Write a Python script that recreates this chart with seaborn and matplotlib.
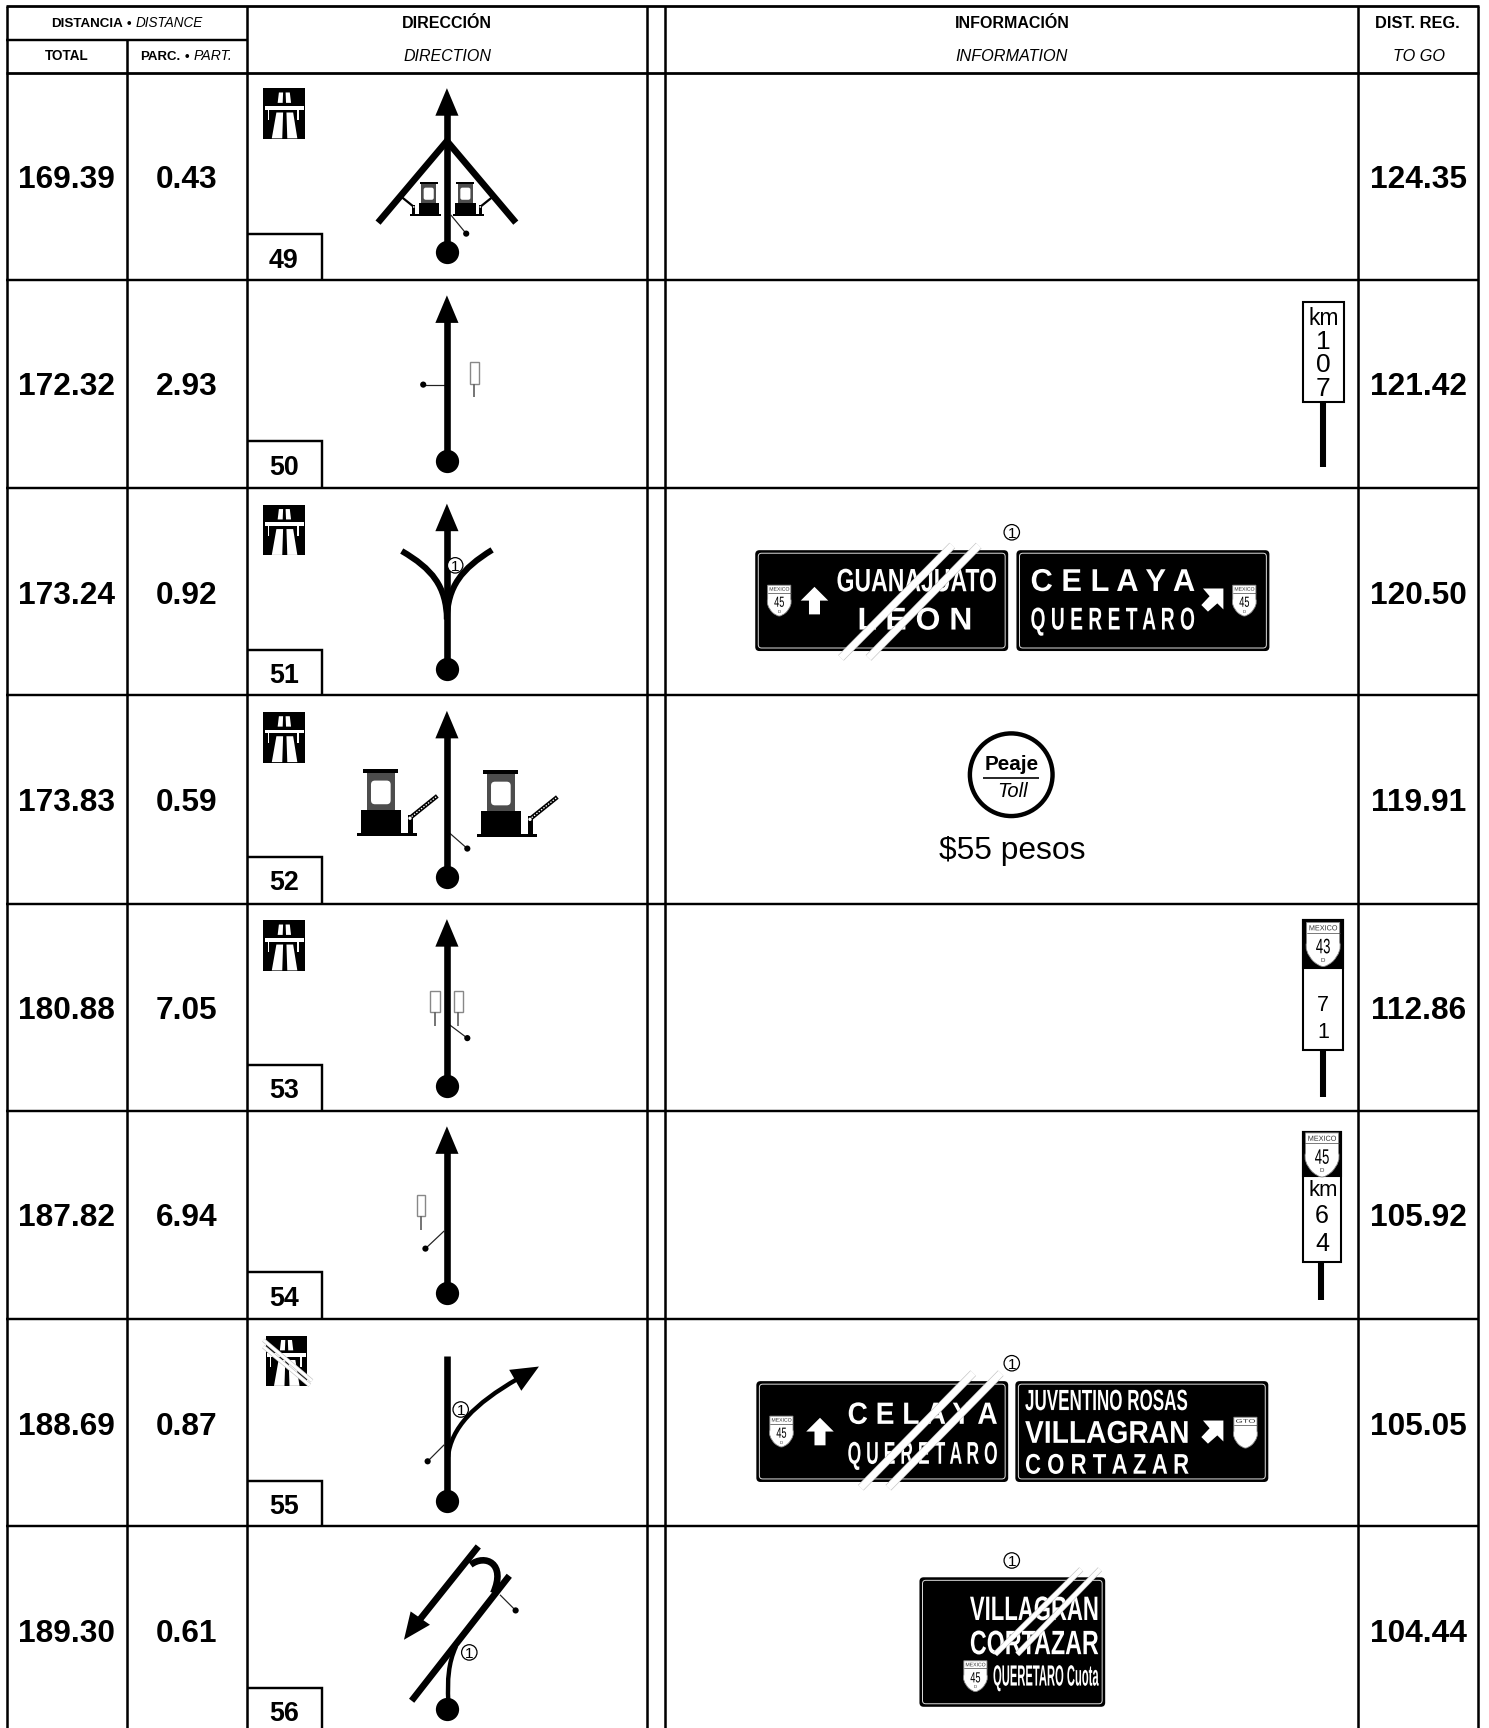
import matplotlib
matplotlib.use('Agg')
import matplotlib.pyplot as plt
import seaborn as sns
from matplotlib.patches import Circle, FancyBboxPatch, PathPatch, Polygon, Rectangle
from matplotlib.patheffects import AbstractPathEffect
from matplotlib.path import Path
from matplotlib.text import Text
from matplotlib.transforms import Affine2D, Bbox

# values read from the road book page
totals = ['169.39', '172.32', '173.24', '173.83', '180.88', '187.82', '188.69', '189.30']
partials = ['0.43', '2.93', '0.92', '0.59', '7.05', '6.94', '0.87', '0.61']
to_go = ['124.35', '121.42', '120.50', '119.91', '112.86', '105.92', '105.05', '104.44']
box_numbers = ['49', '50', '51', '52', '53', '54', '55', '56']
start_y = [229, 418, 607, 796, 985, 1173, 1362, 1551]

row_tops = [66, 254, 443, 631, 820, 1008, 1197, 1385]
col_lines = [6, 115, 224, 587, 603, 1232, 1341]

sns.set_theme(style='white')
plt.rcParams['font.family'] = ['Liberation Sans', 'DejaVu Sans']

BLACK = '#000000'
WHITE = '#ffffff'
W, H = 1351, 1568
K = 1489 / W

fig = plt.figure(figsize=(14.89, 17.28), dpi=100)
ax = fig.add_axes([0, 0, 1, 1])
ax.set_xlim(0, W)
ax.set_ylim(H, 0)
ax.set_axis_off()
rend = fig.canvas.get_renderer()


class Squeeze(AbstractPathEffect):
    # sign lettering is condensed or stretched, this scales the glyphs along x only
    def __init__(self, sx):
        super().__init__()
        self.sx = sx

    def draw_path(self, renderer, gc, tpath, affine, rgbFace=None):
        m = affine.get_matrix().copy()
        m[0, 0] *= self.sx
        renderer.draw_path(gc, tpath, Affine2D(m), rgbFace)


class SqueezedText(Text):
    # reports the box of the squeezed glyphs
    sx = 1

    def get_window_extent(self, renderer=None, dpi=None):
        b = super().get_window_extent(renderer, dpi)
        return Bbox.from_extents(b.x0, b.y0, b.x0 + b.width * self.sx, b.y1)


def lw(px):
    return px * K * 0.72


def fit(x0, x1, y, s, color=BLACK, z=8, **kw):
    # text sized to sit between x0 and x1, y is the cap middle
    t = ax.text(x0, y, s, ha='left', va='baseline', fontsize=10, color=color, zorder=z, **kw)
    w = t.get_window_extent(rend).width
    size = 10 * (x1 - x0) * K / w
    t.set_fontsize(size)
    t.set_y(y + 0.358 * size / 0.72 / K)
    return t


def sign_text(x0, x1, y, s, cap, color=WHITE, z=7, **kw):
    # cap height and width set on their own
    size = cap * K / 0.716 * 0.72
    t = SqueezedText(x0, y + cap / 2, s, ha='left', va='baseline', fontsize=size, color=color, zorder=z, **kw)
    ax.add_artist(t)
    w = t.get_window_extent(rend).width
    t.sx = (x1 - x0) * K / w
    t.set_path_effects([Squeeze(t.sx)])
    return t


def label(cx, y, s, size, color=BLACK, z=8, **kw):
    return ax.text(cx, y + 0.358 * size / 0.72 / K, s, ha='center', va='baseline', fontsize=size,
                   color=color, zorder=z, **kw)


def line(xs, ys, width, color=BLACK, z=3, cap='butt'):
    ax.plot(xs, ys, color=color, lw=lw(width), solid_capstyle=cap, solid_joinstyle='miter', zorder=z)


def curve(p0, c1, c2, p1, width, z=3):
    path = Path([p0, c1, c2, p1], [Path.MOVETO, Path.CURVE4, Path.CURVE4, Path.CURVE4])
    ax.add_patch(PathPatch(path, fc='none', ec=BLACK, lw=lw(width), capstyle='butt', zorder=z))


def poly(pts, fc=BLACK, z=3, **kw):
    ax.add_patch(Polygon(pts, closed=True, fc=fc, ec='none', zorder=z, **kw))


def road_arrow(top, bottom, cx=405.5):
    line([cx, cx], [top + 22, bottom], 6)
    poly([(cx, top), (cx - 10.5, top + 25), (cx + 10.5, top + 25)])


def pointer(x0, y0, x1, y1):
    line([x0, x1], [y0, y1], 1.1, color='#222222', z=2)
    ax.add_patch(Circle((x1, y1), 2.8, fc=BLACK, ec='none', zorder=3))


def circled(cx, cy):
    ax.add_patch(Circle((cx, cy), 7, fc=WHITE, ec=BLACK, lw=0.9, zorder=7))
    label(cx, cy, '1', 11, z=8)


def slash(x0, y0, x1, y1, width=6, z=10):
    line([x0, x1], [y0, y1], width + 1.2, color='#c4c4c4', z=z)
    line([x0, x1], [y0, y1], width, color=WHITE, z=z + 1)


def motorway(x, y, crossed=False):
    w, h = 38, 46
    ax.add_patch(Rectangle((x, y), w, h, fc=BLACK, ec='none', zorder=3))
    fr = lambda a, b: (x + a * w, y + b * h)
    poly([fr(.37, .085), fr(.47, .085), fr(.46, .29), fr(.34, .29)], fc=WHITE, z=4)
    poly([fr(.53, .085), fr(.63, .085), fr(.66, .29), fr(.54, .29)], fc=WHITE, z=4)
    poly([fr(.04, .35), fr(.97, .35), fr(.97, .425), fr(.04, .425)], fc=WHITE, z=4)
    poly([fr(.1, .42), fr(.14, .42), fr(.14, .62), fr(.1, .62)], fc=WHITE, z=4)
    poly([fr(.81, .42), fr(.86, .42), fr(.86, .62), fr(.81, .62)], fc=WHITE, z=4)
    poly([fr(.31, .48), fr(.47, .48), fr(.45, .99), fr(.2, .99)], fc=WHITE, z=4)
    poly([fr(.55, .48), fr(.71, .48), fr(.81, .99), fr(.57, .99)], fc=WHITE, z=4)
    if crossed:
        slash(x - 2, y + 4, x + 42, y + 41, width=2.5, z=5)
        slash(x - 2, y + 10, x + 40, y + 45, width=2.5, z=5)


def booth(x, y, s, mirror=False):
    # x, y = left end and bottom of the foot, drawn in units of a 182 wide booth
    def p(u, v):
        uu = 182 - u if mirror else u
        return x + uu * s, y - v * s
    poly([p(20, 200), p(125, 200), p(125, 188), p(20, 188)], z=2)
    poly([p(30, 188), p(115, 188), p(115, 78), p(30, 78)], fc='#4d4d4d', z=2)
    a, b = p(43, 166), p(102, 95)
    x0, x1 = min(a[0], b[0]), max(a[0], b[0])
    ax.add_patch(FancyBboxPatch((x0, a[1]), x1 - x0, b[1] - a[1], boxstyle=f'round,pad=0,rounding_size={12 * s}',
                                fc=WHITE, ec='none', zorder=2))
    poly([p(13, 78), p(132, 78), p(132, 10), p(13, 10)], z=2)
    poly([p(0, 10), p(182, 10), p(182, 0), p(0, 0)], z=2)
    poly([p(153, 63), p(170, 63), p(170, 10), p(153, 10)], z=2)
    a, b = p(165, 58), p(242, 120)
    line([a[0], b[0]], [a[1], b[1]], max(1.5, 13 * s), z=2)
    if s > .2:
        ax.plot([a[0], b[0]], [a[1], b[1]], color=WHITE, lw=0.9, dashes=(1.2, 1.2), zorder=2)
    ax.add_patch(Circle(p(160, 53), 5 * s, fc=WHITE, ec='none', zorder=3))


def small_post(x0, x1, y0, y1, y2):
    ax.add_patch(Rectangle((x0, y0), x1 - x0, y1 - y0, fc=WHITE, ec='#888888', lw=1, zorder=2))
    line([(x0 + x1) / 2] * 2, [y1, y2], 1.6, color='#666666', z=2)


def shield(cx, top, w, h, top_text='MEXICO', number='45', letter='D', z=9):
    x0, x1 = cx - w / 2, cx + w / 2
    verts = [(x0, top), (x1, top), (x1, top + .45 * h), (x1 + .08 * w, top + .65 * h), (cx + .3 * w, top + .88 * h),
             (cx + .12 * w, top + h), (cx, top + h), (cx - .12 * w, top + h), (cx - .3 * w, top + .88 * h),
             (x0 - .08 * w, top + .65 * h), (x0, top + .45 * h), (x0, top)]
    codes = [Path.MOVETO, Path.LINETO, Path.LINETO, Path.CURVE3, Path.CURVE3, Path.CURVE3, Path.CURVE3,
             Path.CURVE3, Path.CURVE3, Path.CURVE3, Path.CURVE3, Path.CLOSEPOLY]
    ax.add_patch(PathPatch(Path(verts, codes), fc=WHITE, ec='#888888', lw=0.6, zorder=z))
    ax.plot([x0, x1], [top + .24 * h] * 2, color='#444444', lw=0.5, zorder=z + 1)
    sign_text(x0 + .07 * w, x1 - .07 * w, top + .12 * h, top_text, .12 * h, color='#333333', z=z + 1)
    if number:
        sign_text(cx - .22 * w, cx + .22 * w, top + .53 * h, number, .34 * h, color=BLACK, z=z + 1)
    if letter:
        label(cx, top + .84 * h, letter, h * .11, z=z + 1, color='#333333')


def panel(x0, x1, y0, y1):
    ax.add_patch(FancyBboxPatch((x0 + 1, y0 + 1), x1 - x0 - 2, y1 - y0 - 2, boxstyle='round,pad=0,rounding_size=3',
                                fc=BLACK, ec=BLACK, lw=1.2, zorder=4))
    ax.add_patch(FancyBboxPatch((x0 + 3, y0 + 3), x1 - x0 - 6, y1 - y0 - 6, boxstyle='round,pad=0,rounding_size=3',
                                fc='none', ec='#dddddd', lw=0.7, zorder=5))


def up_arrow(cx, cy):
    pts = [(0, -12.5), (12.5, 0), (5, 0), (5, 12.5), (-5, 12.5), (-5, 0), (-12.5, 0)]
    poly([(cx + a, cy + b) for a, b in pts], fc=WHITE, z=6)


def diag_arrow(cx, cy):
    pts = [(10, -10), (10, 9), (4.5, 3.5), (-4, 11), (-10, 5), (-2.5, -3), (-8.5, -10)]
    poly([(cx + a, cy + b) for a, b in pts], fc=WHITE, z=6)


def post(x0, x1, y_top, y_black, y_bot, y_stem, cx):
    ax.add_patch(Rectangle((x0, y_top), x1 - x0, y_bot - y_top, fc=WHITE, ec=BLACK, lw=1.5, zorder=3))
    if y_black:
        ax.add_patch(Rectangle((x0, y_top), x1 - x0, y_black - y_top, fc=BLACK, ec=BLACK, lw=1.5, zorder=4))
    line([cx, cx], [y_bot, y_stem], 5.5)


# grid of the table
for x in col_lines:
    top = 36 if x == 115 else 5
    line([x, x], [top, H], 2.3, z=12)
for y in [5, 66] + row_tops[1:]:
    line([5, 1342], [y, y], 2.5 if y in (5, 66) else 2.2, z=12)
line([5, 224], [36, 36], 2.2, z=12)

# header
fit(46, 111, 20, 'DISTANCIA', weight='bold')
label(117, 20, '•', 9.5, weight='bold')
fit(123, 184, 20, 'DISTANCE', style='italic')
fit(40.5, 80, 50, 'TOTAL', weight='bold')
fit(127.5, 164, 50, 'PARC.', weight='bold')
label(170, 50, '•', 9.5, weight='bold')
fit(176, 211, 50, 'PART.', style='italic')
fit(365, 446, 20, 'DIRECCIÓN', weight='bold')
fit(366, 446, 50, 'DIRECTION', style='italic')
fit(866, 970, 20, 'INFORMACIÓN', weight='bold')
fit(867, 969, 50, 'INFORMATION', style='italic')
fit(1248, 1325, 20, 'DIST. REG.', weight='bold')
fit(1264, 1311, 50, 'TO GO', style='italic')

# value columns and numbered boxes
for i, top in enumerate(row_tops):
    label(60.5, top + 94.5, totals[i], 22.8, weight='bold')
    label(169, top + 94.5, partials[i], 22.8, weight='bold')
    label(1287, top + 94.5, to_go[i], 22.8, weight='bold')
    label(257.5, top + 168, box_numbers[i], 19.4, weight='bold')
    bottom = row_tops[i + 1] if i < len(row_tops) - 1 else H
    line([224, 292, 292], [top + 146.5, top + 146.5, bottom], 2.2, z=12)

sns.scatterplot(x=[405.5] * len(start_y), y=start_y, s=280, color=BLACK, linewidth=0, ax=ax, legend=False, zorder=4)

# direction sketches
for yy in (80, 458, 646, 835):
    motorway(239, yy)
motorway(241, 1212, crossed=True)

# 49
road_arrow(80, 229)
line([343, 405.5, 468], [202, 128, 202], 6)
booth(372, 196, .155, mirror=True)
booth(411, 196, .155)
pointer(409, 195, 423, 212)
# 50
road_arrow(268, 418)
pointer(405, 349, 384, 349)
small_post(426, 434.7, 328.5, 348, 360)
# 51
road_arrow(457, 607)
curve((405.5, 562), (405, 532), (392, 516), (364.5, 500), 5.5)
curve((405.5, 562), (406, 532), (419, 516), (446.5, 499), 5.5)
circled(413, 513)
# 52
road_arrow(645, 796)
booth(323.6, 758.5, .3024)
booth(432.5, 759.5, .3024)
pointer(408, 756, 424, 770)
# 53
road_arrow(834, 985)
small_post(390.5, 399, 899, 918, 931)
small_post(411.5, 420, 899, 918, 931)
pointer(408, 930, 424, 942)
# 54
road_arrow(1022, 1173)
small_post(378, 386, 1084, 1103, 1116)
pointer(403, 1117, 386, 1133)
# 55
line([405.5, 405.5], [1230, 1362], 6)
curve((406.5, 1322), (409, 1296), (430, 1274), (470, 1251), 4)
poly([(489, 1240), (462, 1243), (473, 1262)])
circled(418, 1279)
pointer(403, 1311, 388, 1326)


def z6(u, v):
    return 217.75 + u * 0.3024, 1206.7 + v * 0.3024


a, b = z6(515, 1113), z6(808, 738)
line([a[0], b[0]], [a[1], b[1]], 6)
a, b = z6(715, 650), z6(535, 875)
line([a[0], b[0]], [a[1], b[1]], 6)
poly([z6(492, 930), z6(512, 845), z6(570, 885)])
curve(z6(692, 705), z6(735, 672), z6(800, 700), z6(760, 790), 6)
curve(z6(625, 1115), z6(622, 1050), z6(625, 1000), z6(648, 950), 4)
circled(*z6(688, 968))
pointer(*z6(780, 795), *z6(827, 842))

# information column
# km post 107
post(1182, 1219, 274, None, 365, 424, 1200.5)
fit(1187, 1215, 287, 'km')
for s, yy in zip('107', (308, 329, 351)):
    label(1200.5, yy, s, 19)

# 51 signs
circled(918, 483)
panel(685, 915, 499, 591)
panel(922, 1152, 499, 591)
shield(707, 531, 21, 28)
up_arrow(739, 545)
sign_text(759, 905, 526, 'GUANAJUATO', 21, weight='bold')
sign_text(778, 882, 561, 'L E O N', 20.5, weight='bold')
sign_text(935, 1084, 526, 'C E L A Y A', 20.5, weight='bold')
sign_text(935, 1084, 561, 'Q U E R E T A R O', 20.5, weight='bold')
diag_arrow(1100, 544)
shield(1129, 531, 21, 28)
slash(763, 597, 864, 495)
slash(788, 597, 888, 495)

# toll
ax.add_patch(Circle((917.5, 703), 37.5, fc=WHITE, ec=BLACK, lw=lw(4), zorder=3))
fit(893, 942, 692, 'Peaje', weight='bold')
line([892, 943], [706, 706], 1.5)
fit(905, 933, 717, 'Toll', style='italic')
fit(852, 985, 769, '$55 pesos')

# 43 post
post(1182, 1218.5, 835, 878, 953, 995, 1200.5)
shield(1200.5, 837, 30, 40, number='43')
label(1200.5, 910, '7', 15.5)
label(1200.5, 935, '1', 15.5)

# 45 post
post(1182, 1217, 1027, 1067, 1145, 1180, 1199)
shield(1199.5, 1028, 30, 40, number='45')
fit(1187, 1214, 1078, 'km')
label(1199.5, 1102, '6', 18)
label(1199.5, 1127, '4', 18)

# 55 signs
circled(918, 1237)
panel(686, 915, 1253, 1345)
panel(921, 1151, 1253, 1345)
shield(709, 1285, 21, 28)
up_arrow(744, 1299)
sign_text(769, 905, 1282, 'C E L A Y A', 20, weight='bold')
sign_text(769, 905, 1318, 'Q U E R E T A R O', 20.5, weight='bold')
sign_text(930, 1078, 1270, 'JUVENTINO ROSAS', 19, weight='bold')
sign_text(930, 1079, 1299, 'VILLAGRAN', 20.5, weight='bold')
sign_text(930, 1079, 1328, 'C O R T A Z A R', 18.5, weight='bold')
diag_arrow(1100, 1299)
shield(1130, 1286, 21, 28, top_text='GTO', number=None, letter=None)
slash(781, 1350, 883, 1246)
slash(806, 1350, 908, 1246)

# 56 sign
circled(918, 1416)
panel(834, 1003, 1431, 1549)
sign_text(880, 997, 1459, 'VILLAGRAN', 22, weight='bold')
sign_text(880, 997, 1490, 'CORTAZAR', 22, weight='bold')
sign_text(901, 997, 1520, 'QUERETARO Cuota', 19, weight='bold')
shield(885, 1507, 21, 28)
slash(903, 1501, 981, 1424, width=4)
slash(923, 1501, 998, 1424, width=4)

ax.set_xlim(0, W)
ax.set_ylim(H, 0)
fig.savefig('out.png', dpi=100, facecolor='white')
